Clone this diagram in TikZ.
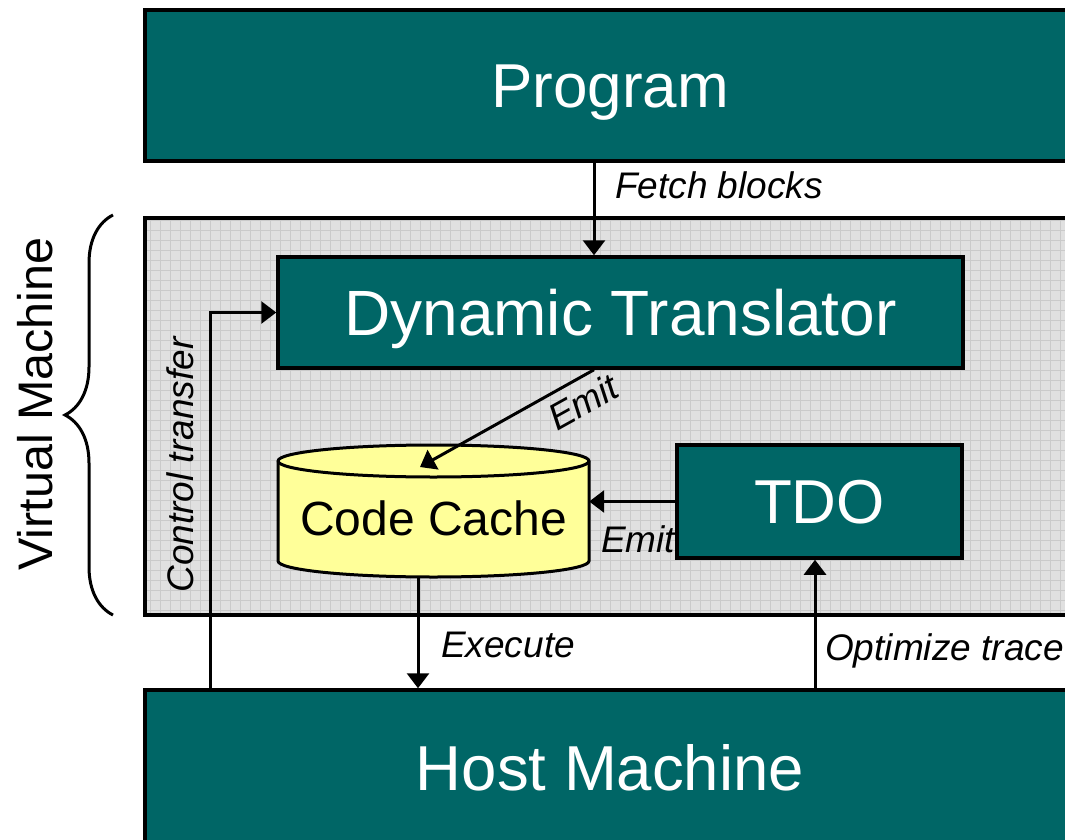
\documentclass[tikz,border=0pt]{standalone}
\usepackage{fontspec}
\setmainfont{Liberation Sans}
\usetikzlibrary{arrows.meta,decorations.pathreplacing}
\definecolor{vmteal}{RGB}{0,102,102}
\definecolor{vmgray}{RGB}{224,224,224}
\definecolor{vmgrid}{RGB}{202,202,202}
\definecolor{vmyellow}{RGB}{255,255,153}
\begin{document}
\begin{tikzpicture}[x=1pt,y=1pt,
  box/.style={draw=black, line width=3.5pt, fill=vmteal, text=white, inner sep=0pt,
    font=\fontsize{62}{70}\selectfont, text height=44.4pt, text depth=0pt},
  lblfont/.style={font=\fontsize{37}{40}\selectfont\itshape, inner sep=0pt},
  lbl/.style={lblfont, anchor=base west},
  arr/.style={line width=3pt, -{Triangle[length=15pt,width=22pt]}},
]
\useasboundingbox (0,0) rectangle (1065,-840);
\clip (0,0) rectangle (1065,-840);
\fill[white] (0,0) rectangle (1065,-840);

% Virtual machine area with grid
\fill[vmgray] (145,-218) rectangle (1075,-615);
\begin{scope}
  \clip (145,-218) rectangle (1075,-615);
  \draw[vmgrid, line width=0.7pt, step=10pt] (140,-220) grid (1080,-620);
\end{scope}
\node[draw=black, line width=3.5pt, inner sep=0pt, minimum width=930pt, minimum height=397pt] (vm) at (610,-416.5) {};

% Boxes
\node[box, minimum width=930pt, minimum height=151pt] (prog) at (610,-85.5) {Program};
\node[box, minimum width=930pt, minimum height=156pt, font=\fontsize{63.5}{70}\selectfont, text height=45.5pt] (host) at (610,-768) {Host Machine};
\node[box, minimum width=685pt, minimum height=111pt, font=\fontsize{64}{70}\selectfont, text height=45.8pt] (dt) at (620.5,-312.5) {Dynamic Translator};

% Code cache cylinder
\filldraw[fill=vmyellow, draw=black, line width=3pt]
  (278,-461) -- (278,-561) arc[start angle=180, end angle=360, x radius=155.5pt, y radius=16pt]
  -- (589,-461) arc[start angle=0, end angle=180, x radius=155.5pt, y radius=16pt] -- cycle;
\draw[line width=3pt] (278,-461) arc[start angle=180, end angle=360, x radius=155.5pt, y radius=16pt];
\node[inner sep=0pt, minimum width=311pt, minimum height=132pt,
  font=\fontsize{48}{52}\selectfont, text height=48pt, text depth=0pt] (cache) at (433.5,-511) {Code Cache};

% second Emit label (partly under TDO)
\node[lbl] (emit2) at (601,-552) {Emit};
\node[box, minimum width=285pt, minimum height=113pt] (tdo) at (819.5,-501.5) {TDO};

% helper coordinates
\coordinate (fx) at (594,0);
\coordinate (ctx) at (210,0);
\coordinate (exx) at (418,0);
\coordinate (opx) at (815,0);
\coordinate (ctop) at (420,-467);

% Connectors
\draw[arr] (prog.south -| fx) -- (dt.north -| fx);
\draw[arr] (host.north -| ctx) |- (dt.west);
\draw[arr] (dt.south -| fx) -- (ctop);
\draw[arr] (tdo.west) -- (cache.east |- tdo.west);
\draw[arr] (cache.south -| exx) -- (host.north -| exx);
\draw[arr] (host.north -| opx) -- (tdo.south -| opx);

% Labels
\node[lbl] (fetchlbl) at (615,-198) {Fetch blocks};
\node[lblfont, rotate=29] (emit1) at (583,-402) {Emit};
\node[lbl] (exlbl) at (441,-657) {Execute};
\node[lbl] (oplbl) at (825,-660) {Optimize trace};
\node[lblfont, anchor=base, rotate=90] (ctlbl) at (193,-465) {Control transfer};

% Brace and Virtual Machine label
\draw[line width=3pt, decorate, decoration={brace, amplitude=48pt}] (113,-615) -- (113,-215);
\node[font=\fontsize{48.5}{52}\selectfont, inner sep=0pt, anchor=base, rotate=90] (vmlbl) at (52,-404) {Virtual Machine};
\end{tikzpicture}
\end{document}
